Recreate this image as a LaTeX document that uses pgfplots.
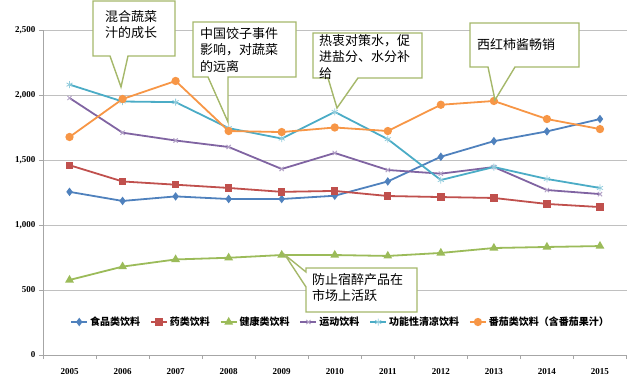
\documentclass[border=0pt]{standalone}
\usepackage{fontspec}
\setmainfont{Liberation Serif}
\newfontfamily\cjk{Noto Sans CJK SC}
\usepackage{pgfplots}
\usepackage{pgfplotstable}
\pgfplotsset{compat=1.18}
\usetikzlibrary{calc}
\definecolor{cfood}{HTML}{4F81BD}
\definecolor{cmed}{HTML}{C0504D}
\definecolor{chealth}{HTML}{9BBB59}
\definecolor{csport}{HTML}{8064A2}
\definecolor{cfunc}{HTML}{4BACC6}
\definecolor{ctom}{HTML}{F79646}
\definecolor{cbox}{HTML}{A5B86A}
\definecolor{cgrid}{HTML}{C0C0C0}
\pgfplotstableread{
x food med health sport func tomato
0 1255 1460 577 1977 2080 1677
1 1185 1335 680 1710 1950 1969
2 1220 1310 735 1650 1945 2108
3 1200 1285 748 1600 1745 1723
4 1200 1255 769 1431 1665 1715
5 1225 1262 769 1554 1870 1750
6 1335 1223 762 1423 1660 1723
7 1525 1215 785 1395 1346 1925
8 1645 1208 823 1446 1446 1954
9 1720 1162 831 1269 1354 1815
10 1815 1138 838 1238 1285 1738
}\data
\begin{document}
\begin{tikzpicture}
\begin{axis}[name=ax,
  scale only axis, width=583.5pt, height=325pt,
  xmin=-0.5, xmax=10.5, ymin=0, ymax=2500,
  axis line style={draw=gray!70},
  axis x line*=bottom, axis y line*=left,
  xtick={0,...,10},
  xticklabels={2005,2006,2007,2008,2009,2010,2011,2012,2013,2014,2015},
  major x tick style={draw=none},
  minor xtick={-0.5,0.5,...,10.5},
  minor x tick style={draw=gray!70},
  minor tick length=4pt,
  ytick={0,500,...,2500},
  major tick length=4pt,
  tick align=outside,
  y tick style={draw=gray!70},
  ymajorgrids, grid style={draw=cgrid, line width=0.8pt},
  tick label style={font=\bfseries\fontsize{9}{10}\selectfont},
  xticklabel style={yshift=-6pt},
  /pgf/number format/.cd, 1000 sep={,}, assume math mode=true,
  /pgfplots/.cd,
  clip=false,
  every axis plot/.append style={line width=1.8pt},
  legend columns=6,
  legend style={draw=none, fill=none, at={(0.51,0.1015)}, anchor=center,
    font=\cjk\bfseries\fontsize{10}{12}\selectfont,
    /tikz/every even column/.append style={column sep=8pt}},
  legend image code/.code={\draw[mark repeat=2,mark phase=2] plot coordinates {(0cm,0cm) (0.28cm,0cm) (0.56cm,0cm)};},
]
\addplot[color=cfood, mark=diamond*, mark size=2.8pt] table[x=x,y=food]{\data};
\addlegendentry{食品类饮料}
\addplot[color=cmed, mark=square*, mark size=2.8pt] table[x=x,y=med]{\data};
\addlegendentry{药类饮料}
\addplot[color=chealth, mark=triangle*, mark size=3.3pt] table[x=x,y=health]{\data};
\addlegendentry{健康类饮料}
\addplot[color=csport, mark=x, mark size=3pt, mark options={line width=1pt, draw=csport!60}] table[x=x,y=sport]{\data};
\addlegendentry{运动饮料}
\addplot[color=cfunc, mark=asterisk, mark size=3.5pt, mark options={line width=0.8pt, draw=cfunc!60}] table[x=x,y=func]{\data};
\addlegendentry{功能性清凉饮料}
\addplot[color=ctom, mark=*, mark size=3.2pt] table[x=x,y=tomato]{\data};
\addlegendentry{番茄类饮料（含番茄果汁）}
\end{axis}
\begin{scope}[shift={(ax.south west)}, x=1pt, y=1pt]
 \tikzset{cb/.style={draw=cbox, fill=white, line width=1.4pt, line join=miter},
   ct/.style={font=\cjk\fontsize{13}{16.5}\selectfont, inner sep=0pt, align=left}}
 % box 1
 \draw[cb] (50,354) -- (132,354) -- (132,299) -- (85,299) -- (78,268) -- (67,299) -- (50,299) -- cycle;
 \node[ct, anchor=north west] at (62,345) {混合蔬菜\\汁的成长};
 % box 2
 \draw[cb] (150,333) -- (253,333) -- (253,278) -- (185,278) -- (185,233) -- (165,278) -- (150,278) -- cycle;
 \node[ct, anchor=north west] at (157,328) {中国饺子事件\\影响，对蔬菜\\的远离};
 % box 3
 \draw[cb] (270,322) -- (379,322) -- (379,277) -- (315,277) -- (294,247) -- (285,277) -- (270,277) -- cycle;
 \node[ct, anchor=north west] at (276,321) {热衷对策水，促\\进盐分、水分补\\给};
 % box 4
 \draw[cb] (427,332) -- (536,332) -- (536,288) -- (472,288) -- (452,255) -- (445,288) -- (427,288) -- cycle;
 \node[ct, anchor=west] at (434,310) {西红柿酱畅销};
 % box 5
 \draw[cb] (263,87) -- (374,87) -- (374,43) -- (263,43) -- (263,68) -- (242,100) -- (263,83) -- cycle;
 \node[ct, anchor=north west] at (269,82) {防止宿醉产品在\\市场上活跃};
\end{scope}
\pgfresetboundingbox
\path[use as bounding box] ($(ax.south west)+(-43pt,-34pt)$) rectangle ($(ax.south west)+(597pt,355pt)$);
\end{tikzpicture}
\end{document}
